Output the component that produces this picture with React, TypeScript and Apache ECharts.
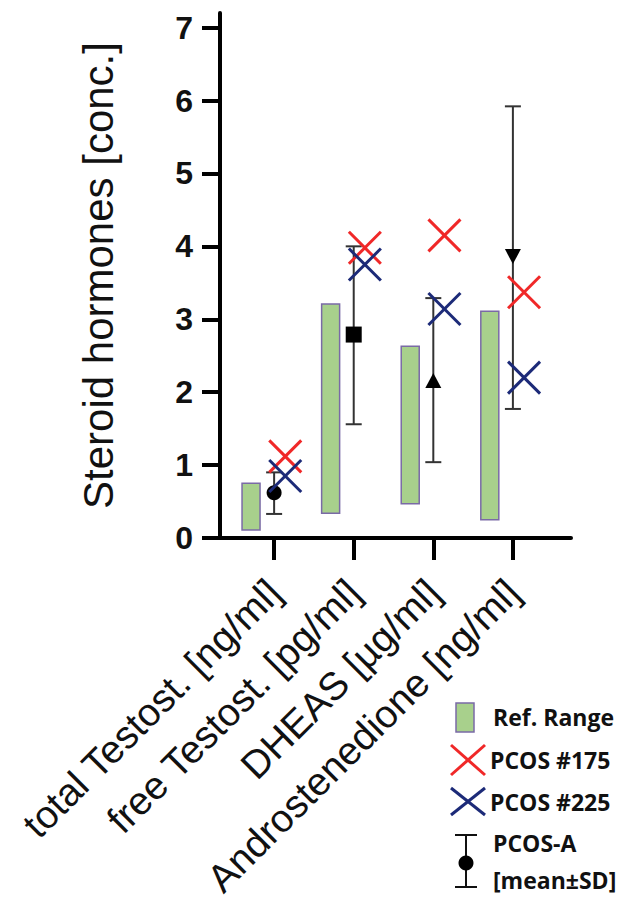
import React, { useEffect, useRef } from 'react';
import * as echarts from 'echarts';

const categories = [
  'total Testost. [ng/ml]',
  'free Testost. [pg/ml]',
  'DHEAS [µg/ml]',
  'Androstenedione [ng/ml]',
];
const yTicks = [0, 1, 2, 3, 4, 5, 6, 7];
const refLow = [0.11, 0.34, 0.47, 0.25];
const refHigh = [0.75, 3.21, 2.63, 3.11];
const pcos175 = [1.12, 3.98, 4.15, 3.37];
const pcos225 = [0.85, 3.75, 3.14, 2.2];
const pcosAMean = [0.62, 2.79, 2.14, 3.88];
const pcosALow = [0.33, 1.56, 1.04, 1.77];
const pcosAHigh = [0.9, 4.0, 3.29, 5.92];

const RED = '#f02828';
const NAVY = '#1c2a78';
const GREEN = '#a8d08c';
const PURPLE = '#7a6aa6';
const BAR_DARK = '#333333';
const markerShapes = ['circle', 'square', 'triangle', 'triangleDown'];

export default function App() {
  const ref = useRef<HTMLDivElement>(null);
  useEffect(() => {
    const chart = echarts.init(ref.current!, null, { renderer: 'svg' });
    const idx = categories.map((_, i) => i);
    const refData = idx.map((i) => [i, refLow[i], refHigh[i]]);
    const sdData = idx.map((i) => [i, pcosAMean[i], pcosALow[i], pcosAHigh[i]]);
    const d175 = idx.map((i) => [i, pcos175[i]]);
    const d225 = idx.map((i) => [i, pcos225[i]]);

    const crossRender = (color: string) => (params: any, api: any) => {
      const p = api.coord([api.value(0) + 0.14, api.value(1)]);
      const h = 16;
      return {
        type: 'group',
        children: [
          { type: 'line', shape: { x1: p[0] - h, y1: p[1] - h, x2: p[0] + h, y2: p[1] + h }, style: { stroke: color, lineWidth: 3 } },
          { type: 'line', shape: { x1: p[0] - h, y1: p[1] + h, x2: p[0] + h, y2: p[1] - h }, style: { stroke: color, lineWidth: 3 } },
        ],
      };
    };

    const font = "'Liberation Sans', Arial, sans-serif";
    const legendFont = "'Open Sans', 'Noto Sans', sans-serif";

    const legendText = (text: string, x: number, y: number) => ({
      type: 'text',
      x,
      y,
      style: { text, fill: '#111', font: `bold 23px ${legendFont}`, textVerticalAlign: 'middle', textAlign: 'left' },
    });

    chart.setOption({
      animation: false,
      backgroundColor: '#fff',
      grid: { left: 220, right: 53, top: 13, bottom: 362, containLabel: false, outerBoundsMode: 'none' },
      xAxis: {
        type: 'value',
        min: -0.68,
        max: 3.73,
        axisLine: { show: true, onZero: false, lineStyle: { color: '#000', width: 4 } },
        axisTick: { show: true, customValues: [0, 1, 2, 3], length: 22, lineStyle: { color: '#000', width: 4 } },
        axisLabel: {
          customValues: [0, 1, 2, 3],
          formatter: (v: number) => categories[Math.round(v)] ?? '',
          rotate: 45,
          fontSize: 39,
          lineHeight: 28,
          fontFamily: font,
          color: '#111',
          margin: 48,
          verticalAlign: 'middle',
        },
        splitLine: { show: false },
      },
      yAxis: {
        type: 'value',
        min: 0,
        max: 7.2,
        axisLine: { show: true, onZero: false, lineStyle: { color: '#000', width: 4 } },
        axisTick: { show: true, customValues: yTicks, length: 18, lineStyle: { color: '#000', width: 4 } },
        axisLabel: { customValues: yTicks, fontSize: 32, fontWeight: 'bold', fontFamily: font, color: '#111', margin: 27 },
        splitLine: { show: false },
        name: 'Steroid hormones [conc.]',
        nameLocation: 'middle',
        nameGap: 101,
        nameTextStyle: { fontSize: 42, fontFamily: font, color: '#111' },
      },
      series: [
        {
          type: 'custom',
          name: 'Ref. Range',
          data: refData,
          renderItem: (params: any, api: any) => {
            const x = api.value(0) - 0.29;
            const top = api.coord([x, api.value(2)]);
            const bot = api.coord([x, api.value(1)]);
            const w = 18;
            return {
              type: 'rect',
              shape: { x: top[0] - w / 2, y: top[1], width: w, height: bot[1] - top[1] },
              style: { fill: GREEN, stroke: PURPLE, lineWidth: 1.5 },
            };
          },
        },
        {
          type: 'custom',
          name: 'PCOS-A',
          data: sdData,
          renderItem: (params: any, api: any) => {
            const i = api.value(0);
            const m = api.coord([i, api.value(1)]);
            const lo = api.coord([i, api.value(2)]);
            const hi = api.coord([i, api.value(3)]);
            const cw = 8;
            const shape = markerShapes[params.dataIndex];
            let marker: any;
            if (shape === 'circle') {
              marker = { type: 'circle', shape: { cx: m[0], cy: m[1], r: 7.5 }, style: { fill: '#000' } };
            } else if (shape === 'square') {
              marker = { type: 'rect', shape: { x: m[0] - 8, y: m[1] - 8, width: 16, height: 16 }, style: { fill: '#000' } };
            } else if (shape === 'triangle') {
              marker = { type: 'polygon', shape: { points: [[m[0], m[1] - 9], [m[0] + 8, m[1] + 6], [m[0] - 8, m[1] + 6]] }, style: { fill: '#000' } };
            } else {
              marker = { type: 'polygon', shape: { points: [[m[0], m[1] + 9], [m[0] + 8, m[1] - 6], [m[0] - 8, m[1] - 6]] }, style: { fill: '#000' } };
            }
            const st = { stroke: BAR_DARK, lineWidth: 2 };
            return {
              type: 'group',
              children: [
                { type: 'line', shape: { x1: m[0], y1: hi[1], x2: m[0], y2: lo[1] }, style: st },
                { type: 'line', shape: { x1: m[0] - cw, y1: hi[1], x2: m[0] + cw, y2: hi[1] }, style: st },
                { type: 'line', shape: { x1: m[0] - cw, y1: lo[1], x2: m[0] + cw, y2: lo[1] }, style: st },
                marker,
              ],
            };
          },
        },
        { type: 'custom', name: 'PCOS #175', data: d175, renderItem: crossRender(RED) },
        { type: 'custom', name: 'PCOS #225', data: d225, renderItem: crossRender(NAVY) },
      ],
      graphic: [
        { type: 'rect', shape: { x: 456, y: 703, width: 18, height: 29 }, style: { fill: GREEN, stroke: PURPLE, lineWidth: 1.5 } },
        legendText('Ref. Range', 493, 717),
        { type: 'line', shape: { x1: 451, y1: 745, x2: 485, y2: 775 }, style: { stroke: RED, lineWidth: 3 } },
        { type: 'line', shape: { x1: 451, y1: 775, x2: 485, y2: 745 }, style: { stroke: RED, lineWidth: 3 } },
        legendText('PCOS #175', 490, 760),
        { type: 'line', shape: { x1: 451, y1: 788, x2: 485, y2: 815 }, style: { stroke: NAVY, lineWidth: 3 } },
        { type: 'line', shape: { x1: 451, y1: 815, x2: 485, y2: 788 }, style: { stroke: NAVY, lineWidth: 3 } },
        legendText('PCOS #225', 490, 802),
        { type: 'line', shape: { x1: 466, y1: 835, x2: 466, y2: 887 }, style: { stroke: '#111', lineWidth: 2 } },
        { type: 'line', shape: { x1: 455, y1: 835, x2: 477, y2: 835 }, style: { stroke: '#111', lineWidth: 2 } },
        { type: 'line', shape: { x1: 455, y1: 887, x2: 477, y2: 887 }, style: { stroke: '#111', lineWidth: 2 } },
        { type: 'circle', shape: { cx: 466, cy: 863, r: 7.5 }, style: { fill: '#000' } },
        legendText('PCOS-A', 493, 843),
        legendText('[mean±SD]', 493, 880),
      ],
    });
    return () => chart.dispose();
  }, []);
  return <div ref={ref} style={{ position: 'absolute', left: 0, top: 0, width: 624, height: 900 }} />;
}
